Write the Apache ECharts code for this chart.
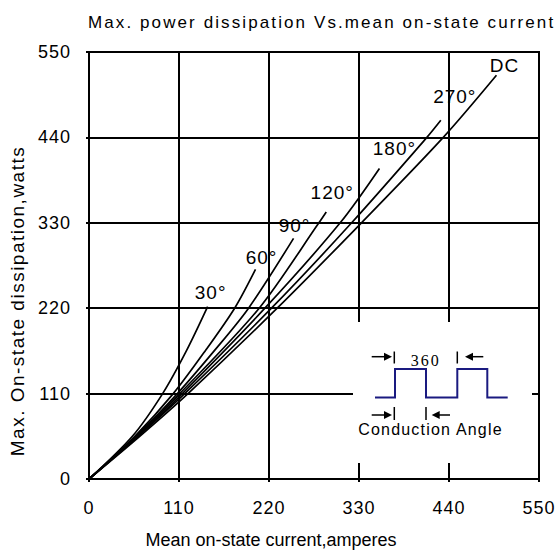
<!DOCTYPE html>
<html><head><meta charset="utf-8">
<script src="https://cdn.jsdelivr.net/npm/echarts@6/dist/echarts.min.js"></script>
<style>html,body{margin:0;padding:0;background:#fff}#c{width:560px;height:554px}</style>
</head><body><div id="c"></div>
<script>
// ---- data ----
const curveNames = ['30°', '60°', '90°', '120°', '180°', '270°', 'DC'];
const current30  = [0, 53, 90, 119, 145];
const power30    = [0, 55, 110, 165, 222];
const current60  = [0, 56, 103, 142, 178, 203.5];
const power60    = [0, 55, 110, 165, 220, 270];
const current90  = [0, 57.5, 108, 153, 195, 250];
const power90    = [0, 55, 110, 165, 220, 310];
const current120 = [0, 58, 111, 208, 281, 290];
const power120   = [0, 55, 110, 220, 330, 344];
const current180 = [0, 59.5, 114, 215, 307, 355];
const power180   = [0, 55, 110, 220, 330, 400];
const current270 = [0, 60, 117, 223, 321, 413, 430];
const power270   = [0, 55, 110, 220, 330, 440, 462];
const currentDC  = [0, 62, 121, 230, 333, 433, 498];
const powerDC    = [0, 55, 110, 220, 330, 440, 520];
const axisTicks  = [0, 110, 220, 330, 440, 550];
const titleText = 'Max. power dissipation Vs.mean on-state current';
const xName = 'Mean on-state current,amperes';
const yName = 'Max. On-state dissipation,watts';
const insetTop = '360';
const insetBottom = 'Conduction Angle';

// ---- styling ----
const FONT = '"Liberation Sans", Arial, sans-serif';
const labelOffsets = {'30°':[3,-14], '60°':[6,-12], '90°':[1,-13], '120°':[6,-19], '180°':[15,-20], '270°':[14,-24], 'DC':[8,-10]};
const curves = [
  [current30, power30], [current60, power60], [current90, power90],
  [current120, power120], [current180, power180], [current270, power270], [currentDC, powerDC]
];

const series = curves.map((c, k) => {
  const name = curveNames[k];
  const n = c[0].length;
  return {
    type: 'line', name: name, silent: true, animation: false, z: 3,
    smooth: 0.3,
    showSymbol: true, symbol: 'circle', symbolSize: 0,
    lineStyle: {color: '#000', width: 1.7},
    itemStyle: {color: '#000'},
    label: {show: false},
    data: c[0].map((x, i) => {
      const v = [x, c[1][i]];
      if (i !== n - 1) return v;
      return {value: v, label: {show: true, formatter: name, position: 'inside', offset: labelOffsets[name],
        color: '#000', fontSize: 19, fontFamily: FONT}};
    })
  };
});

const axisCommon = {
  type: 'value', min: axisTicks[0], max: axisTicks[axisTicks.length - 1], interval: axisTicks[1] - axisTicks[0],
  axisLine: {show: true, lineStyle: {color: '#000', width: 2}},
  axisTick: {show: true, length: 3, lineStyle: {color: '#000', width: 2}},
  splitLine: {show: true, lineStyle: {color: '#000', width: 2}},
  nameLocation: 'middle'
};

const waveColor = '#1a1a80';
const insetGraphics = [
  {type: 'rect', z: 50, shape: {x: 353, y: 322, width: 179, height: 141}, style: {fill: '#fff'}},
  {type: 'polyline', z: 51, shape: {points: [[375,397.5],[395,397.5],[395,369],[426,369],[426,397.5],[457.3,397.5],[457.3,369],[487.3,369],[487.3,397.5],[507.7,397.5]]},
    style: {stroke: waveColor, lineWidth: 2, fill: null}},
  {type: 'line', z: 51, shape: {x1: 371.7, y1: 356.7, x2: 386, y2: 356.7}, style: {stroke: '#000', lineWidth: 1.5}},
  {type: 'polygon', z: 51, shape: {points: [[392,356.7],[384,352.7],[384,360.7]]}, style: {fill: '#000'}},
  {type: 'line', z: 51, shape: {x1: 394.3, y1: 351.5, x2: 394.3, y2: 363.5}, style: {stroke: '#000', lineWidth: 1.5}},
  {type: 'line', z: 51, shape: {x1: 457.3, y1: 351.5, x2: 457.3, y2: 363.5}, style: {stroke: '#000', lineWidth: 1.5}},
  {type: 'polygon', z: 51, shape: {points: [[465,356.7],[473,352.7],[473,360.7]]}, style: {fill: '#000'}},
  {type: 'line', z: 51, shape: {x1: 471, y1: 356.7, x2: 483.3, y2: 356.7}, style: {stroke: '#000', lineWidth: 1.5}},
  {type: 'line', z: 51, shape: {x1: 371.7, y1: 415, x2: 386, y2: 415}, style: {stroke: '#000', lineWidth: 1.5}},
  {type: 'polygon', z: 51, shape: {points: [[392,415],[384,411],[384,419]]}, style: {fill: '#000'}},
  {type: 'line', z: 51, shape: {x1: 394.3, y1: 407, x2: 394.3, y2: 420}, style: {stroke: '#000', lineWidth: 1.5}},
  {type: 'line', z: 51, shape: {x1: 426, y1: 407, x2: 426, y2: 420}, style: {stroke: '#000', lineWidth: 1.5}},
  {type: 'polygon', z: 51, shape: {points: [[431.7,415],[439.7,411],[439.7,419]]}, style: {fill: '#000'}},
  {type: 'line', z: 51, shape: {x1: 438, y1: 415, x2: 450, y2: 415}, style: {stroke: '#000', lineWidth: 1.5}},
  {type: 'text', z: 51, x: 425.8, y: 360, style: {text: insetTop, fill: '#000', font: '16px "Liberation Serif", "Times New Roman", serif', textAlign: 'center', textVerticalAlign: 'middle'}},
  {type: 'text', z: 51, x: 430.5, y: 429, style: {text: insetBottom, fill: '#000', font: '16px ' + FONT, textAlign: 'center', textVerticalAlign: 'middle'}}
];

const chart = echarts.init(document.getElementById('c'), null, {renderer: 'svg'});
chart.setOption({
  animation: false,
  backgroundColor: '#fff',
  title: {text: titleText, left: 88, top: 14, padding: 0,
    textStyle: {color: '#000', fontSize: 17, fontWeight: 'normal', fontFamily: FONT}},
  grid: {left: 88, right: 21, top: 52, bottom: 75, show: true, borderColor: '#000', borderWidth: 2, backgroundColor: 'transparent'},
  xAxis: Object.assign({}, axisCommon, {
    name: xName, nameGap: 52,
    nameTextStyle: {color: '#000', fontSize: 18, fontFamily: FONT, padding: [0, 86, 0, 0]},
    axisLabel: {color: '#000', fontSize: 18, fontFamily: FONT, margin: 20}
  }),
  yAxis: Object.assign({}, axisCommon, {
    name: yName, nameGap: 62, nameRotate: 90,
    nameTextStyle: {color: '#000', fontSize: 19, fontFamily: FONT, padding: [0, 71, 0, 0]},
    axisLabel: {color: '#000', fontSize: 18, fontFamily: FONT, margin: 18}
  }),
  series: series,
  graphic: insetGraphics
});

// letter spacing to mimic the spaced lettering of the original
const spacing = {};
spacing[titleText] = '2.1px';
spacing[yName] = '1.5px';
spacing[insetBottom] = '1.2px';
spacing[insetTop] = '2px';
curveNames.forEach(n => spacing[n] = '1px');
axisTicks.forEach(t => spacing[String(t)] = '1px');
document.querySelectorAll('#c text').forEach(t => {
  const s = spacing[t.textContent];
  if (s) t.style.letterSpacing = s;
});
</script></body></html>
